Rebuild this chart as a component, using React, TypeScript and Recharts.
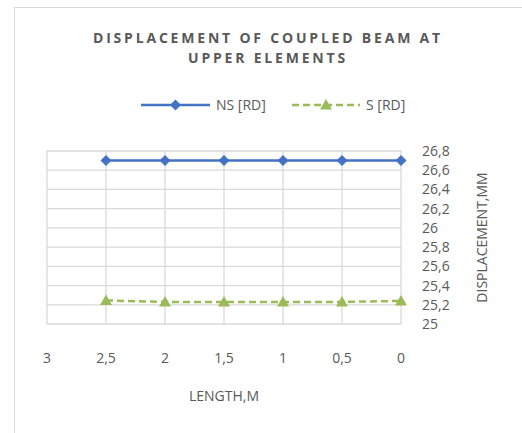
import { LineChart, Line, XAxis, YAxis, CartesianGrid, Legend } from 'recharts'

const lengths = [2.5, 2, 1.5, 1, 0.5, 0]
const nsRd = [26.7, 26.7, 26.7, 26.7, 26.7, 26.7]
const sRd = [25.245, 25.23, 25.23, 25.23, 25.23, 25.24]
const xTicks = [0, 0.5, 1, 1.5, 2, 2.5, 3]
const yTicks = [25, 25.2, 25.4, 25.6, 25.8, 26, 26.2, 26.4, 26.6, 26.8]

const BLUE = '#4472C4'
const GREEN = '#9BBB59'
const TEXT = '#595959'
const GRID = '#d9d9d9'
const FONT = '"Open Sans", sans-serif'
const FS = 14

const rows = lengths.map((l, i) => ({ length: l, ns: nsRd[i], s: sRd[i] }))

const comma = (v: number) => String(v).replace('.', ',')

function Diamond(props: any) {
  const { cx, cy } = props
  if (cx == null || cy == null) return null
  const r = 5.5
  return (
    <path
      d={`M${cx},${cy - r}L${cx + r},${cy}L${cx},${cy + r}L${cx - r},${cy}Z`}
      fill={BLUE}
    />
  )
}

function Triangle(props: any) {
  const { cx, cy } = props
  if (cx == null || cy == null) return null
  return (
    <path
      d={`M${cx},${cy - 6}L${cx + 6},${cy + 4.5}L${cx - 6},${cy + 4.5}Z`}
      fill={GREEN}
    />
  )
}

function LegendBox() {
  return (
    <div style={{ position: 'relative', width: 522, height: 20 }}>
      <svg width={522} height={20} style={{ position: 'absolute', left: 0, top: 0 }}>
        <line x1={141} x2={210} y1={10} y2={10} stroke={BLUE} strokeWidth={2.5} />
        <Diamond cx={175.5} cy={10} />
        <line x1={292} x2={360} y1={10} y2={10} stroke={GREEN} strokeWidth={2.5} strokeDasharray="7 4" />
        <Triangle cx={326} cy={10} />
        <text x={216} y={15} fill={TEXT} fontSize={FS} fontFamily={FONT}>NS [RD]</text>
        <text x={366} y={15} fill={TEXT} fontSize={FS} fontFamily={FONT}>S [RD]</text>
      </svg>
    </div>
  )
}

export default function App() {
  return (
    <div style={{ position: 'relative', width: 522, height: 433, overflow: 'hidden', background: '#fff' }}>
      <style>{'body{margin:0}'}</style>
      <div
        style={{
          position: 'absolute',
          left: 14,
          top: 7,
          width: 540,
          height: 460,
          border: `1px solid ${GRID}`,
          borderRightWidth: 0,
          borderBottomWidth: 0,
        }}
      />
      <div
        style={{
          position: 'absolute',
          left: 0,
          top: 28,
          width: 536,
          textAlign: 'center',
          fontFamily: FONT,
          fontWeight: 700,
          fontSize: 14,
          lineHeight: '19.6px',
          letterSpacing: 2.8,
          color: TEXT,
        }}
      >
        DISPLACEMENT OF COUPLED BEAM AT
        <br />
        UPPER ELEMENTS
      </div>
      <div style={{ position: 'absolute', left: 0, top: 0 }}>
        <LineChart
          width={522}
          height={433}
          data={rows}
          margin={{ top: 151, right: 0, bottom: 0, left: 47 }}
          style={{ fontFamily: FONT }}
        >
          <CartesianGrid stroke={GRID} strokeWidth={1.3} />
          <XAxis
            dataKey="length"
            type="number"
            domain={[0, 3]}
            ticks={xTicks}
            interval={0}
            reversed
            height={109}
            axisLine={false}
            tickLine={false}
            tickSize={0}
            tickMargin={29}
            tickFormatter={comma}
            tick={{ fill: TEXT, fontSize: FS }}
            label={{ value: 'LENGTH,M', position: 'center', dy: 18, fill: TEXT, fontSize: FS }}
          />
          <YAxis
            orientation="right"
            domain={[25, 26.8]}
            ticks={yTicks}
            interval={0}
            width={121}
            axisLine={false}
            tickLine={false}
            tickSize={0}
            tickMargin={21}
            tickFormatter={comma}
            tick={{ fill: TEXT, fontSize: FS, textAnchor: 'start' }}
            label={{ value: 'DISPLACEMENT,MM', angle: -90, position: 'center', dx: 20.5, fill: TEXT, fontSize: FS }}
          />
          <Legend
            layout="vertical"
            align="center"
            verticalAlign="middle"
            wrapperStyle={{ top: 95, left: 0, width: 522 }}
            content={() => <LegendBox />}
          />
          <Line
            dataKey="ns"
            name="NS [RD]"
            stroke={BLUE}
            strokeWidth={2.5}
            dot={<Diamond />}
            activeDot={false}
            isAnimationActive={false}
          />
          <Line
            dataKey="s"
            name="S [RD]"
            stroke={GREEN}
            strokeWidth={2.5}
            strokeDasharray="7 4"
            dot={<Triangle />}
            activeDot={false}
            isAnimationActive={false}
          />
        </LineChart>
      </div>
    </div>
  )
}
